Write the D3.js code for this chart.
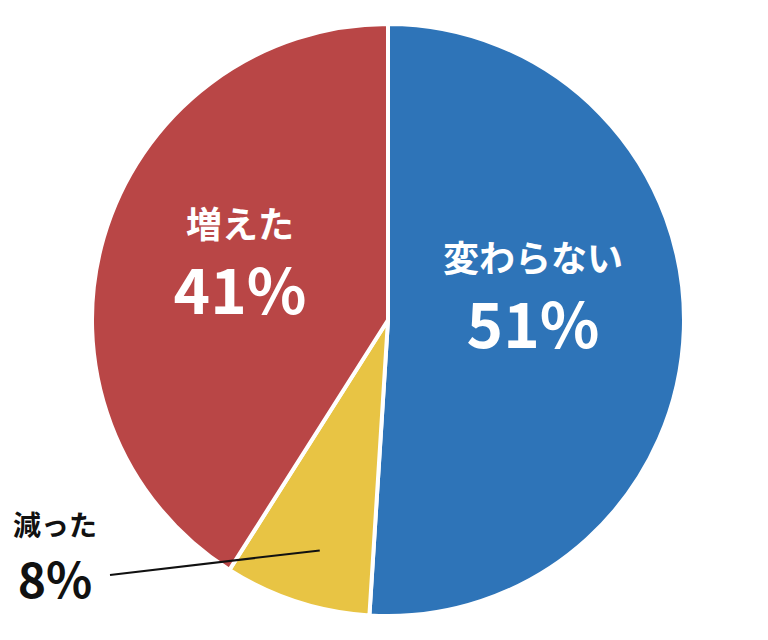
<!DOCTYPE html>
<html><head><meta charset="utf-8">
<script src="https://cdn.jsdelivr.net/npm/d3@7"></script>
<style>body{margin:0;background:#fff}text{font-family:"Noto Sans CJK JP",sans-serif;font-weight:700}</style>
</head><body><div id="chart"></div>
<script>
const categories = ["変わらない", "減った", "増えた"];
const values = [51, 8, 41];
const colors = ["#2E74B8", "#E8C444", "#B94646"];

const width = 768, height = 640;
const cx = 388, cy = 320, radius = 296;

let svg = d3.select("#chart").append("svg")
    .attr("width", width).attr("height", height);

let g = svg.append("g").attr("transform", "translate(" + cx + "," + cy + ")");

let pie = d3.pie().sort(null).value(d => d)(values);
let arc = d3.arc().innerRadius(0).outerRadius(radius);

g.selectAll("path").data(pie).enter().append("path")
    .attr("d", arc)
    .attr("fill", (d, i) => colors[i])
    .attr("stroke", "#fff").attr("stroke-width", 4);

// inside labels
const inside = [
    {i: 0, x: 145, y: -48},
    {i: 2, x: -148, y: -82}
];
inside.forEach(l => {
    g.append("text").attr("x", l.x).attr("y", l.y)
        .attr("text-anchor", "middle").attr("fill", "#fff").attr("font-size", 36)
        .text(categories[l.i]);
    g.append("text").attr("x", l.x).attr("y", l.y + 76)
        .attr("text-anchor", "middle").attr("fill", "#fff").attr("font-size", 62)
        .text(values[l.i] + "%");
});

// outside label for small slice
let inner = d3.arc().innerRadius(0).outerRadius(474).centroid(pie[1]);
g.append("line")
    .attr("x1", inner[0] + 5).attr("y1", inner[1] + 5)
    .attr("x2", 110 - cx).attr("y2", 575 - cy)
    .attr("stroke", "#111").attr("stroke-width", 2);
g.append("text").attr("x", 55 - cx).attr("y", 536 - cy)
    .attr("text-anchor", "middle").attr("fill", "#111").attr("font-size", 28)
    .text(categories[1]);
g.append("text").attr("x", 55 - cx).attr("y", 598 - cy)
    .attr("text-anchor", "middle").attr("fill", "#111").attr("font-size", 48)
    .text(values[1] + "%");
</script></body></html>
